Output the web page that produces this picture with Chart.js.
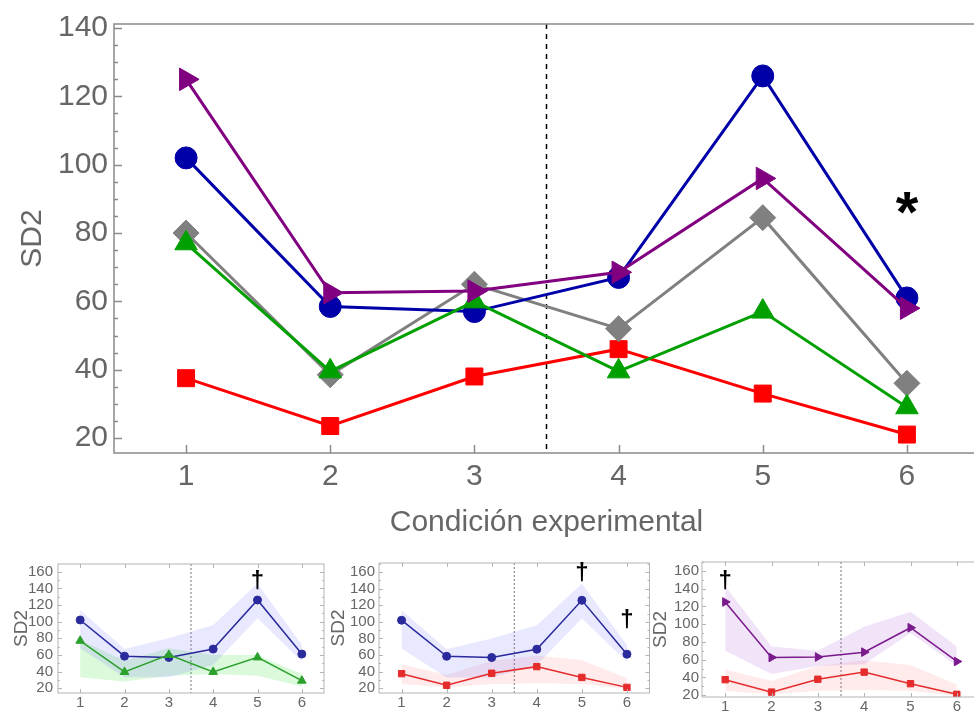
<!DOCTYPE html>
<html><head><meta charset="utf-8">
<script src="https://cdn.jsdelivr.net/npm/chart.js@4"></script>
<style>
html,body{margin:0;padding:0;background:#fff;}
body{width:974px;height:718px;overflow:hidden;position:relative;}
canvas{position:absolute;display:block;}
</style></head>
<body>
<canvas id="main" width="1000" height="548" style="left:0;top:0"></canvas>
<canvas id="sub1" width="330" height="168" style="left:0;top:550px"></canvas>
<canvas id="sub2" width="330" height="168" style="left:325px;top:550px"></canvas>
<canvas id="sub3" width="345" height="168" style="left:645px;top:550px"></canvas>
<script>
// ---- data ----
const conditions = [1, 2, 3, 4, 5, 6];
const yTicksMain = [20, 40, 60, 80, 100, 120, 140];
const yTicksSub = [20, 40, 60, 80, 100, 120, 140, 160];
const blueSD2   = [102, 58.5, 57, 67, 126, 61];
const purpleSD2 = [125, 62.5, 63, 68.5, 96, 58];
const graySD2   = [80, 38.5, 65, 52, 84.5, 36];
const greenSD2  = [77, 39.5, 60, 39.5, 57, 29];
const redSD2    = [37.5, 23.5, 38, 46, 33, 21];
const blueUpper   = [114, 67, 80, 96, 146, 72];
const blueLower   = [68, 33, 33, 48, 104, 52];
const greenUpper  = [78, 53, 68, 60, 60, 37];
const greenLower  = [33, 28, 35, 37, 35, 22];
const redUpper    = [49, 36, 53, 59, 54, 32];
const redLower    = [25, 21, 25, 26, 25, 19];
const purpleUpper = [143, 75, 70, 97, 114, 75];
const purpleLower = [70, 44, 53, 55, 90, 53];
const mainMarks = [{x: 6, y: 85, text: '*'}];
const sub1Marks = [{x: 5, y: 148, text: '†'}];
const sub2Marks = [{x: 5, y: 159, text: '†'}, {x: 6, y: 102, text: '†'}];
const sub3Marks = [{x: 1, y: 148, text: '†'}];
const dividerAt = 3.5;

const FONT = '"Liberation Sans", Arial, sans-serif';
const TXT = '#666666';

function pts(ys){ return conditions.map((x,i)=>({x:x, y:ys[i]})); }
function lineDS(ys, color, style, radius, lw, rot, order){
  return {data: pts(ys), borderColor: color, backgroundColor: color,
    pointBackgroundColor: color, pointBorderColor: color, pointStyle: style,
    pointRadius: radius, pointRotation: rot||0, borderWidth: lw, pointBorderWidth: 1,
    order: order, tension: 0, fill: false};
}
function bandDS(upper, lower, color){
  return [
    {data: pts(upper), borderWidth: 0, borderColor: 'rgba(0,0,0,0)', pointRadius: 0, fill: '+1', backgroundColor: color, order: 20},
    {data: pts(lower), borderWidth: 0, borderColor: 'rgba(0,0,0,0)', pointRadius: 0, fill: false, backgroundColor: 'rgba(0,0,0,0)', order: 20}
  ];
}

const framePlugin = {
  id: 'frame',
  beforeDatasetsDraw(chart, args, o){
    const {ctx, chartArea: a, scales: {x}} = chart;
    const px = x.getPixelForValue(dividerAt);
    ctx.save();
    ctx.strokeStyle = o.dashColor; ctx.lineWidth = o.dashWidth;
    ctx.setLineDash(o.dash);
    ctx.beginPath(); ctx.moveTo(px, a.top); ctx.lineTo(px, a.bottom); ctx.stroke();
    ctx.restore();
  },
  afterDatasetsDraw(chart, args, o){
    const {ctx, chartArea: a, scales: {x, y}} = chart;
    ctx.save();
    ctx.strokeStyle = o.color; ctx.lineWidth = o.width;
    ctx.strokeRect(a.left, a.top, a.right - a.left, a.bottom - a.top);
    ctx.beginPath();
    for (let v = Math.ceil(y.min / o.minorStep) * o.minorStep; v <= y.max; v += o.minorStep){
      const py = Math.round(y.getPixelForValue(v)) + 0.5;
      const len = (v % o.majorStep === 0) ? o.majorLen : o.minorLen;
      ctx.moveTo(a.left, py); ctx.lineTo(a.left + len, py);
      if (o.rightTicks){ ctx.moveTo(a.right, py); ctx.lineTo(a.right - len, py); }
    }
    conditions.forEach(c => {
      const px = Math.round(x.getPixelForValue(c)) + 0.5;
      ctx.moveTo(px, a.bottom); ctx.lineTo(px, a.bottom - o.majorLen);
      if (o.topTicks){ ctx.moveTo(px, a.top); ctx.lineTo(px, a.top + o.majorLen); }
    });
    ctx.stroke();
    ctx.fillStyle = '#000';
    ctx.font = o.markFont;
    ctx.textAlign = 'center'; ctx.textBaseline = 'middle';
    (o.marks || []).forEach(m => {
      ctx.fillText(m.text, x.getPixelForValue(m.x), y.getPixelForValue(m.y));
    });
    ctx.restore();
  }
};

function makeChart(id, cfg){
  return new Chart(document.getElementById(id), {
    type: 'line',
    data: {datasets: cfg.datasets},
    options: {
      responsive: false, animation: false, events: [],
      layout: {padding: {top: cfg.top, right: cfg.right, left: 0, bottom: 0}},
      plugins: {legend: {display: false}, tooltip: {enabled: false}, frame: cfg.frame},
      scales: {
        x: {type: 'linear', min: 0.5, max: 6.5,
          grid: {display: false, drawTicks: false}, border: {display: false},
          afterBuildTicks: s => { s.ticks = conditions.map(v => ({value: v})); },
          afterFit: s => { s.height = cfg.xHeight; },
          ticks: {font: {family: FONT, size: cfg.xFont}, color: TXT, padding: cfg.xPad, maxRotation: 0, autoSkip: false},
          title: cfg.xTitle ? {display: true, text: cfg.xTitle, font: {family: FONT, size: cfg.xTitleFont}, color: TXT, padding: {top: 0, bottom: cfg.xTitlePad}} : {display: false}
        },
        y: {type: 'linear', min: cfg.yMin, max: cfg.yMax,
          grid: {display: false, drawTicks: false}, border: {display: false},
          afterBuildTicks: s => { s.ticks = cfg.yTicks.map(v => ({value: v})); },
          afterFit: s => { s.width = cfg.yWidth; },
          ticks: {font: {family: FONT, size: cfg.yFont}, color: TXT, padding: cfg.yPad, autoSkip: false},
          title: {display: true, text: 'SD2', font: {family: FONT, size: cfg.yTitleFont}, color: TXT, padding: {top: cfg.yTitlePad, bottom: 0}}
        }
      }
    },
    plugins: [framePlugin]
  });
}

// main chart
makeChart('main', {
  datasets: [
    lineDS(purpleSD2, '#800080', 'triangle', 13, 3, 90, 0),
    lineDS(greenSD2, '#00a000', 'triangle', 13, 3, 0, 1),
    lineDS(blueSD2, '#0000a8', 'circle', 11, 3, 0, 2),
    lineDS(graySD2, '#808080', 'rectRot', 13, 3, 0, 3),
    lineDS(redSD2, '#ff0000', 'rect', 12, 3, 0, 4)
  ],
  top: 21, right: 21, xHeight: 95, yWidth: 114,
  yMin: 15.6, yMax: 141.2, yTicks: yTicksMain,
  xFont: 30, yFont: 30, xPad: 6, yPad: 6,
  xTitle: 'Condición experimental', xTitleFont: 30, xTitlePad: 7,
  yTitleFont: 30, yTitlePad: 15,
  frame: {color: '#8a8a8a', width: 1.5, majorLen: 8, minorLen: 4, minorStep: 5, majorStep: 20,
    dash: [5, 5], dashColor: '#000', dashWidth: 1.5, marks: mainMarks, markFont: 'bold 58px ' + FONT}
});

function subCfg(extra){
  return Object.assign({
    xHeight: 25, xFont: 15, yFont: 15, xPad: 1, yPad: 5, yTitleFont: 19, yTicks: yTicksSub
  }, extra);
}
function subFrame(marks){
  return {color: '#b4b4b4', width: 1, majorLen: 4, minorLen: 2, minorStep: 10, majorStep: 20,
    rightTicks: true, topTicks: true,
    dash: [2, 2], dashColor: '#777', dashWidth: 1, marks: marks, markFont: 'bold 24px ' + FONT};
}

makeChart('sub1', subCfg({
  datasets: [
    ...bandDS(blueUpper, blueLower, 'rgba(120,120,255,0.17)'),
    ...bandDS(greenUpper, greenLower, 'rgba(40,220,40,0.17)'),
    lineDS(blueSD2, '#2a2a9c', 'circle', 4, 1.5, 0, 1),
    lineDS(greenSD2, '#2ca02c', 'triangle', 5, 1.5, 0, 0)
  ],
  top: 9, right: 5, yWidth: 58, yMin: 14.2, yMax: 169.3, yTitlePad: 10, yPad: 5,
  frame: subFrame(sub1Marks)
}));

makeChart('sub2', subCfg({
  datasets: [
    ...bandDS(blueUpper, blueLower, 'rgba(120,120,255,0.17)'),
    ...bandDS(redUpper, redLower, 'rgba(255,110,110,0.14)'),
    lineDS(blueSD2, '#2a2a9c', 'circle', 4, 1.5, 0, 0),
    lineDS(redSD2, '#e52b2b', 'rect', 4.5, 1.5, 0, 1)
  ],
  top: 7, right: 5, yWidth: 54, yMin: 14.2, yMax: 171, yTitlePad: 2, yPad: 4,
  frame: subFrame(sub2Marks)
}));

makeChart('sub3', subCfg({
  datasets: [
    ...bandDS(purpleUpper, purpleLower, 'rgba(170,90,210,0.16)'),
    ...bandDS(redUpper, redLower, 'rgba(255,110,110,0.14)'),
    lineDS(purpleSD2, '#7a1a8c', 'triangle', 5, 1.5, 90, 0),
    lineDS(redSD2, '#e52b2b', 'rect', 4.5, 1.5, 0, 1)
  ],
  top: 10, right: 10, xHeight: 21, yWidth: 57, yMin: 18, yMax: 170, yTitlePad: 4, yPad: 3,
  frame: subFrame(sub3Marks)
}));
</script>
</body></html>
